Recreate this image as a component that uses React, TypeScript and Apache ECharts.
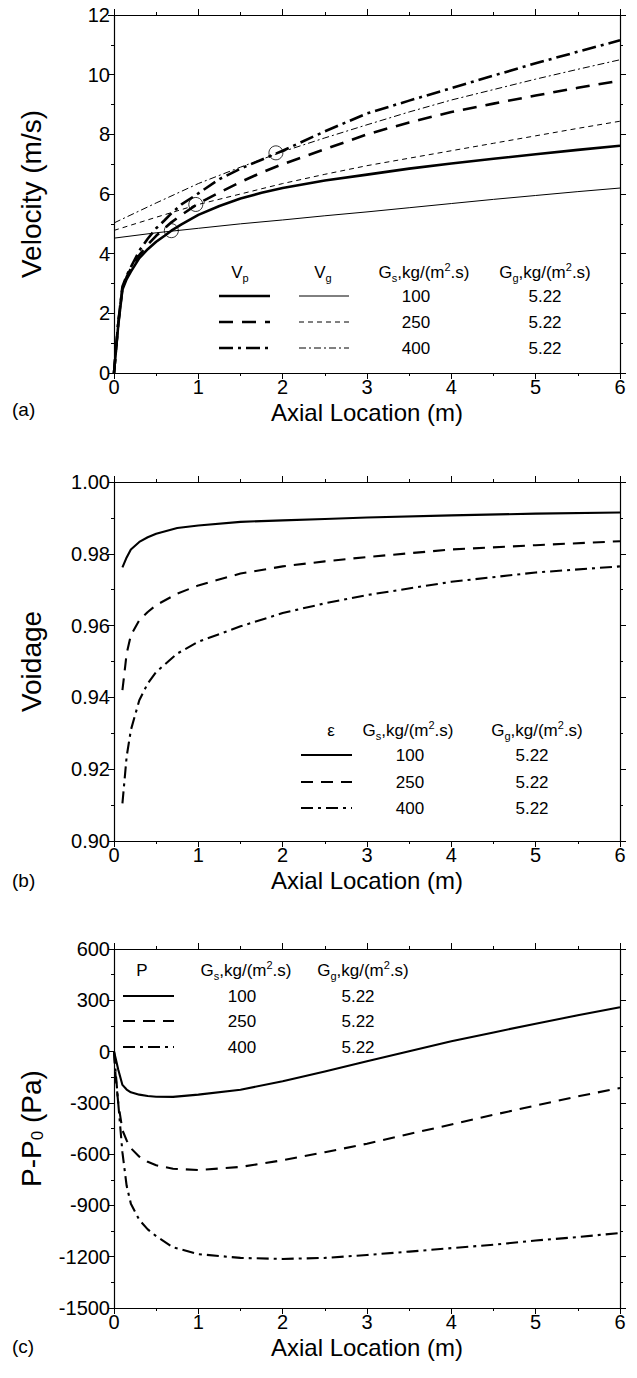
import React, { useEffect, useRef } from "react";
import * as echarts from "echarts";

const FONT = "'Liberation Sans', Arial, sans-serif";

// ---------- (a) Velocity ----------
const vpX = [0, 0.05, 0.1, 0.15, 0.2, 0.3, 0.4, 0.5, 0.6, 0.68, 0.8, 1, 1.25, 1.5, 1.75, 2, 2.5, 3, 3.5, 4, 4.5, 5, 5.5, 6];
const vp100 = [0, 1.6, 2.8, 3.15, 3.4, 3.85, 4.15, 4.4, 4.6, 4.77, 4.98, 5.3, 5.6, 5.85, 6.04, 6.2, 6.45, 6.65, 6.85, 7.02, 7.18, 7.33, 7.48, 7.62];
const vp250 = [0, 1.65, 2.85, 3.22, 3.5, 3.95, 4.3, 4.6, 4.85, 5.05, 5.3, 5.68, 6.05, 6.4, 6.72, 7.0, 7.5, 8.0, 8.4, 8.75, 9.03, 9.3, 9.56, 9.8];
const vp400 = [0, 1.7, 2.9, 3.26, 3.55, 4.1, 4.5, 4.85, 5.12, 5.35, 5.65, 6.02, 6.5, 6.85, 7.15, 7.45, 8.1, 8.7, 9.13, 9.55, 9.97, 10.38, 10.77, 11.15];

const vgX = [0, 0.5, 1, 1.5, 2, 2.5, 3, 3.5, 4, 4.5, 5, 5.5, 6];
const vg100 = [4.52, 4.7, 4.85, 5.0, 5.13, 5.27, 5.4, 5.54, 5.68, 5.82, 5.95, 6.08, 6.2];
const vg250 = [4.78, 5.22, 5.65, 6.0, 6.35, 6.66, 6.95, 7.2, 7.45, 7.7, 7.95, 8.2, 8.44];
const vg400 = [5.03, 5.7, 6.35, 6.9, 7.42, 7.88, 8.32, 8.75, 9.15, 9.5, 9.85, 10.18, 10.5];

const crossX = [0.68, 0.97, 1.92];
const crossY = [4.77, 5.65, 7.38];

// ---------- (b) Voidage ----------
const epsX = [0.1, 0.15, 0.2, 0.3, 0.4, 0.5, 0.75, 1, 1.5, 2, 2.5, 3, 4, 5, 6];
const eps100 = [0.9762, 0.979, 0.9812, 0.9833, 0.9846, 0.9856, 0.9872, 0.9879, 0.9889, 0.9893, 0.9897, 0.9901, 0.9907, 0.9912, 0.9915];
const eps250 = [0.942, 0.9522, 0.9573, 0.9615, 0.9638, 0.9657, 0.9689, 0.9712, 0.9745, 0.9765, 0.9779, 0.9791, 0.9812, 0.9824, 0.9835];
const eps400 = [0.9105, 0.9235, 0.9309, 0.9392, 0.9439, 0.9471, 0.9522, 0.9555, 0.9598, 0.9635, 0.9662, 0.9685, 0.9722, 0.9748, 0.9765];

// ---------- (c) Pressure ----------
const pX = [0, 0.02, 0.05, 0.1, 0.15, 0.2, 0.3, 0.4, 0.5, 0.7, 1, 1.5, 2, 2.5, 3, 3.5, 4, 4.5, 5, 5.5, 6];
const p100 = [0, -40, -105, -195, -222, -238, -252, -260, -264, -265, -252, -223, -174, -116, -57, 2, 60, 112, 163, 212, 259];
const p250 = [0, -150, -300, -460, -520, -565, -615, -645, -665, -685, -693, -675, -636, -589, -539, -482, -427, -370, -316, -262, -213];
const p400 = [0, -120, -300, -590, -785, -890, -985, -1040, -1080, -1145, -1185, -1207, -1213, -1207, -1190, -1170, -1150, -1130, -1105, -1085, -1061];

// legend texts
const gsValues = ["100", "250", "400"];
const ggValues = ["5.22", "5.22", "5.22"];

const pair = (xs: number[], ys: number[]) => xs.map((x, i) => [x, ys[i]]);

const THICK = 2.6;
const MID = 2.1;
const THIN = 1;
const dashThick = [14, 9];
const dashDotThick = [14, 5, 3, 5];
const dashThin = [5, 4];
const dashDotThin = [7, 3, 2, 3];
const dashMid = [12, 8];
const dashDotMid = [12, 5, 3, 5];

const grids = [
  { left: 114, top: 15, width: 506, height: 358 },
  { left: 114, top: 482, width: 506, height: 359 },
  { left: 114, top: 949, width: 506, height: 359 },
];

const tickStyle = { color: "#000", width: 1 };
const baseAxis = (gridIndex: number, showLabel: boolean) => ({
  gridIndex,
  type: "value" as const,
  axisLine: { show: true, onZero: false, lineStyle: { color: "#000", width: 1.2 } },
  axisTick: { show: true, inside: false, length: 6, lineStyle: tickStyle },
  minorTick: { show: true, splitNumber: 2, length: 3, lineStyle: tickStyle },
  splitLine: { show: false },
  minorSplitLine: { show: false },
  axisLabel: { show: showLabel, color: "#000", fontSize: 20, fontFamily: FONT, margin: 4 },
});

const xName = {
  name: "Axial Location (m)",
  nameLocation: "middle" as const,
  nameGap: 27,
  nameTextStyle: { color: "#000", fontSize: 24, fontFamily: FONT },
};

const yNameStyle = {
  color: "#000",
  fontSize: 28,
  fontFamily: FONT,
  lineHeight: 30,
  rich: { sub: { fontSize: 17, lineHeight: 14, verticalAlign: "bottom" as const, fontFamily: FONT, color: "#000" } },
};

const xAxes: any[] = [];
const yAxes: any[] = [];
[0, 1, 2].forEach((g) => {
  xAxes.push({ ...baseAxis(g, true), position: "bottom", min: 0, max: 6, interval: 1, ...xName });
});
[0, 1, 2].forEach((g) => {
  xAxes.push({ ...baseAxis(g, false), position: "top", min: 0, max: 6, interval: 1 });
});
const yRanges = [
  { min: 0, max: 12, interval: 2, name: "Velocity (m/s)", fmt: (v: number) => String(v) },
  { min: 0.9, max: 1.0, interval: 0.02, name: "Voidage", fmt: (v: number) => v.toFixed(2) },
  { min: -1500, max: 600, interval: 300, name: "P-P{sub|0} (Pa)", fmt: (v: number) => String(Math.round(v)) },
];
yRanges.forEach((r, g) => {
  const a = baseAxis(g, true);
  yAxes.push({
    ...a,
    position: "left",
    min: r.min,
    max: r.max,
    interval: r.interval,
    axisLabel: { ...a.axisLabel, formatter: r.fmt },
    name: r.name,
    nameLocation: "middle",
    nameGap: 68,
    nameTextStyle: yNameStyle,
  });
});
yRanges.forEach((r, g) => {
  yAxes.push({ ...baseAxis(g, false), position: "right", min: r.min, max: r.max, interval: r.interval });
});

const line = (name: string, xi: number, data: number[][], width: number, type: any) => ({
  name,
  type: "line" as const,
  xAxisIndex: xi,
  yAxisIndex: xi,
  data,
  showSymbol: false,
  symbol: "none",
  smooth: false,
  lineStyle: { color: "#000", width, type, join: "round" },
  silent: true,
  z: 3,
});

const series: any[] = [
  line("Vp 100", 0, pair(vpX, vp100), THICK, "solid"),
  line("Vp 250", 0, pair(vpX, vp250), THICK, dashThick),
  line("Vp 400", 0, pair(vpX, vp400), THICK, dashDotThick),
  line("Vg 100", 0, pair(vgX, vg100), THIN, "solid"),
  line("Vg 250", 0, pair(vgX, vg250), THIN, dashThin),
  line("Vg 400", 0, pair(vgX, vg400), THIN, dashDotThin),
  {
    name: "Vp = Vg",
    type: "scatter",
    xAxisIndex: 0,
    yAxisIndex: 0,
    data: pair(crossX, crossY),
    symbol: "circle",
    symbolSize: 14,
    itemStyle: { color: "transparent", borderColor: "#000", borderWidth: 1 },
    z: 5,
  },
  line("eps 100", 1, pair(epsX, eps100), MID, "solid"),
  line("eps 250", 1, pair(epsX, eps250), MID, dashMid),
  line("eps 400", 1, pair(epsX, eps400), MID, dashDotMid),
  line("P 100", 2, pair(pX, p100), MID, "solid"),
  line("P 250", 2, pair(pX, p250), MID, dashMid),
  line("P 400", 2, pair(pX, p400), MID, dashDotMid),
];

// ----- legend graphics -----
const LFS = 17;
const rich = {
  sub: { fontSize: 11, lineHeight: 9, verticalAlign: "bottom", fontFamily: FONT, fill: "#000" },
  sup: { fontSize: 11, lineHeight: 9, verticalAlign: "top", fontFamily: FONT, fill: "#000" },
};
const txt = (text: string, x: number, y: number, align = "center", size = LFS) => ({
  type: "text",
  x,
  y,
  silent: true,
  style: {
    text,
    fill: "#000",
    fontSize: size,
    fontFamily: FONT,
    lineHeight: 22,
    align,
    verticalAlign: "middle",
    rich,
  },
});
const seg = (x1: number, x2: number, y: number, width: number, dash: any) => ({
  type: "line",
  silent: true,
  shape: { x1, y1: y, x2, y2: y },
  style: { stroke: "#000", lineWidth: width, lineDash: dash === "solid" ? null : dash },
});
const gsHead = "G{sub|s},kg/(m{sup|2}.s)";
const ggHead = "G{sub|g},kg/(m{sup|2}.s)";

const graphics: any[] = [];
// (a)
const aRows = [296, 322, 348];
graphics.push(txt("V{sub|p}", 240, 272), txt("V{sub|g}", 323, 272), txt(gsHead, 424, 272), txt(ggHead, 545, 272));
const aThick = ["solid", dashThick, dashDotThick];
const aThin = ["solid", dashThin, dashDotThin];
aRows.forEach((y, i) => {
  graphics.push(seg(219, 270, y, THICK, aThick[i]), seg(299, 349, y, THIN, aThin[i]), txt(gsValues[i], 416, y), txt(ggValues[i], 545, y));
});
// (b)
const bRows = [755, 782, 808];
graphics.push(txt("ε", 331, 730), txt(gsHead, 408, 730), txt(ggHead, 537, 730));
const bStyles = ["solid", dashMid, dashDotMid];
bRows.forEach((y, i) => {
  graphics.push(seg(301, 352, y, MID, bStyles[i]), txt(gsValues[i], 410, y), txt(ggValues[i], 532, y));
});
// (c)
const cRows = [996, 1021, 1047];
graphics.push(txt("P", 142, 970), txt(gsHead, 246, 970), txt(ggHead, 363, 970));
cRows.forEach((y, i) => {
  graphics.push(seg(123, 174, y, MID, bStyles[i]), txt(gsValues[i], 242, y), txt(ggValues[i], 358, y));
});
// panel labels
graphics.push(txt("(a)", 12, 409, "left", 19), txt("(b)", 12, 880, "left", 19), txt("(c)", 12, 1346, "left", 19));

const option: any = {
  animation: false,
  backgroundColor: "#fff",
  textStyle: { fontFamily: FONT },
  grid: grids,
  xAxis: xAxes,
  yAxis: yAxes,
  series,
  graphic: graphics,
};

export default function App() {
  const ref = useRef<HTMLDivElement>(null);
  useEffect(() => {
    document.body.style.margin = "0";
    const chart = echarts.init(ref.current!, null, { renderer: "svg" });
    chart.setOption(option);
    return () => chart.dispose();
  }, []);
  return <div ref={ref} style={{ width: 637, height: 1378, background: "#fff" }} />;
}
